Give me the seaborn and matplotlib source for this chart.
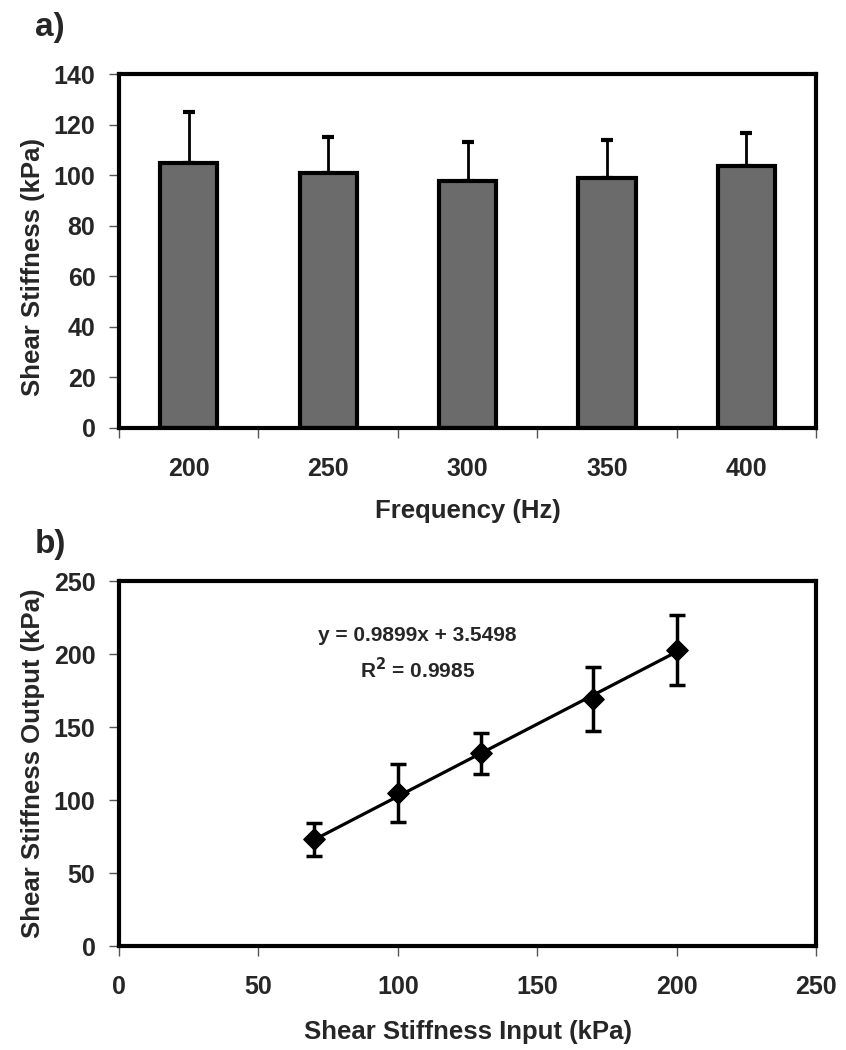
# Two panel figure: shear stiffness vs frequency (bars) and input vs output (calibration line)
import numpy as np
import pandas as pd
import matplotlib
matplotlib.use("Agg")
import matplotlib.pyplot as plt
from matplotlib.ticker import FixedLocator, MultipleLocator
import seaborn as sns

sns.set_style("white")
plt.rcParams['font.family'] = ['Liberation Sans', 'DejaVu Sans']
plt.rcParams['font.weight'] = 'bold'
plt.rcParams['axes.labelweight'] = 'bold'

# panel a) data
frequency = ['200', '250', '300', '350', '400']
stiffness_mean = [105, 101, 97.5, 99, 103.5]
stiffness_err = [20, 14, 15.5, 15, 13]

# panel b) data
input_kpa = [70, 100, 130, 170, 200]
output_kpa = [73, 105, 132, 169, 203]
output_err = [11, 20, 14, 22, 24]
slope = 0.9899
intercept = 3.5498
r_squared = 0.9985

df_a = pd.DataFrame({'freq': frequency, 'mean': stiffness_mean})

fig = plt.figure(figsize=(8.46, 10.5), dpi=100)
ax1 = fig.add_axes([0.1407, 0.5924, 0.8239, 0.3371])
ax2 = fig.add_axes([0.1407, 0.0990, 0.8239, 0.3476])

tick_fs = 18
label_fs = 18.5

# ---- a) bar chart ----
sns.barplot(data=df_a, x='freq', y='mean', color='#6b6b6b', saturation=1,
            edgecolor='black', linewidth=3, width=0.41, ax=ax1, zorder=2)
for p in ax1.patches:
    p.set_facecolor('#6b6b6b')
xs = np.arange(len(frequency))
ax1.errorbar(xs, stiffness_mean, yerr=[np.zeros(len(xs)), stiffness_err], fmt='none',
             ecolor='black', elinewidth=2, capsize=4, capthick=3, zorder=1)
ax1.set_xlim(-0.5, 4.5)
ax1.set_ylim(0, 140)
ax1.yaxis.set_major_locator(MultipleLocator(20))
ax1.xaxis.set_minor_locator(FixedLocator(np.arange(-0.5, 5, 1)))
ax1.tick_params(axis='x', which='major', length=0, pad=21, labelsize=tick_fs)
ax1.tick_params(axis='x', which='minor', length=7, width=1, color='#555555', bottom=True)
ax1.tick_params(axis='y', which='major', length=7, width=1, color='#555555', left=True,
                pad=10, labelsize=tick_fs)
ax1.set_xlabel('Frequency (Hz)', fontsize=label_fs, labelpad=13)
ax1.set_ylabel('Shear Stiffness (kPa)', fontsize=label_fs, labelpad=6)
ax1.yaxis.label.set_y(0.455)

# ---- b) calibration ----
fit_y = [slope * x + intercept for x in input_kpa]
sns.lineplot(x=input_kpa, y=fit_y, color='black', linewidth=2.3, ax=ax2, zorder=2)
ax2.errorbar(input_kpa, output_kpa, yerr=output_err, fmt='none', ecolor='black',
             elinewidth=2.5, capsize=6, capthick=2.5, zorder=3)
sns.scatterplot(x=input_kpa, y=output_kpa, marker='D', s=120, color='black',
                edgecolor='black', ax=ax2, zorder=4)
ax2.set_xlim(0, 250)
ax2.set_ylim(0, 250)
ax2.xaxis.set_major_locator(MultipleLocator(50))
ax2.yaxis.set_major_locator(MultipleLocator(50))
ax2.tick_params(axis='x', length=7, width=1, color='#555555', bottom=True, pad=14, labelsize=tick_fs)
ax2.tick_params(axis='y', length=7, width=1, color='#555555', left=True, pad=10, labelsize=tick_fs)
ax2.set_xlabel('Shear Stiffness Input (kPa)', fontsize=label_fs, labelpad=15)
ax2.set_ylabel('Shear Stiffness Output (kPa)', fontsize=label_fs, labelpad=6)
ax2.text(107, 200, f'y = {slope}x + {intercept}\nR$^2$ = {r_squared}', ha='center', va='center',
         fontsize=15, fontweight='bold', linespacing=1.6,
         family=['Liberation Sans Narrow', 'Liberation Sans'])

for ax in (ax1, ax2):
    for s in ax.spines.values():
        s.set_linewidth(3)
        s.set_color('black')
        s.set_visible(True)
    ax.grid(False)

fig.text(0.041, 0.974, 'a)', fontsize=24, fontweight='bold', va='center')
fig.text(0.041, 0.481, 'b)', fontsize=24, fontweight='bold', va='center')

fig.savefig('out.png', dpi=100)
